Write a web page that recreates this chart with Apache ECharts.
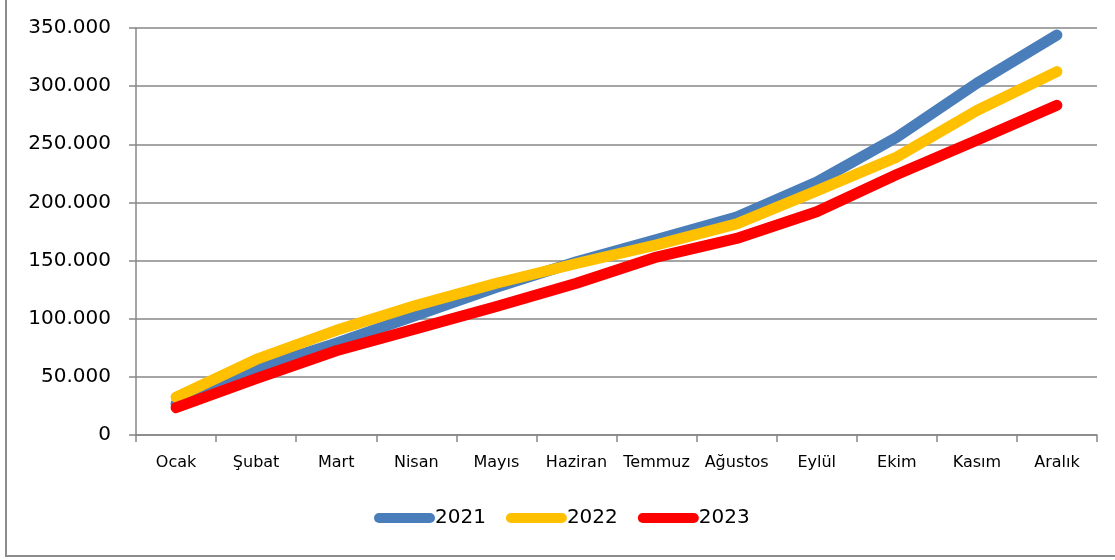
<!DOCTYPE html>
<html>
<head>
<meta charset="utf-8">
<script src="https://cdn.jsdelivr.net/npm/echarts@6/dist/echarts.min.js"></script>
<style>
  html, body { margin: 0; padding: 0; background: #fff; overflow: hidden; }
  #wrap { position: relative; width: 1115px; height: 560px; }
  #frame {
    position: absolute; left: 5px; top: -6px; width: 1120px; height: 563px;
    border: 2px solid #8c8c8c; box-sizing: border-box;
  }
  #chart { position: absolute; left: 0; top: 0; width: 1115px; height: 560px; }
</style>
</head>
<body>
<div id="wrap">
  <div id="frame"></div>
  <div id="chart"></div>
</div>
<script>
  // aylar
  const months = ['Ocak', 'Şubat', 'Mart', 'Nisan', 'Mayıs', 'Haziran', 'Temmuz', 'Ağustos', 'Eylül', 'Ekim', 'Kasım', 'Aralık']
  const years = ['2021', '2022', '2023']
  const colors = ['#4a7ebb', '#ffc000', '#ff0000']

  const data2021 = [27000, 57000, 79000, 103000, 127000, 149000, 168000, 187500, 217500, 256000, 302500, 344000]
  const data2022 = [32500, 65000, 90000, 111500, 130500, 147500, 163500, 181500, 210000, 239000, 279000, 312500]
  const data2023 = [23500, 48500, 72500, 91500, 110500, 130500, 153000, 169000, 192000, 224000, 253500, 283500]

  const yTicks = [0, 50000, 100000, 150000, 200000, 250000, 300000, 350000]

  const seriesData = [data2021, data2022, data2023]
  const font = 'DejaVu Sans'

  function fmt(v) {
    return v === 0 ? '0' : String(v).replace(/\B(?=(\d{3})+(?!\d))/g, '.')
  }

  const myChart = echarts.init(document.getElementById('chart'), null, { renderer: 'canvas' })

  myChart.setOption({
    animation: false,
    grid: {
      left: 136,
      right: 18,
      top: 28,
      bottom: 125
    },
    legend: {
      left: 369,
      top: 503,
      itemWidth: 61,
      itemHeight: 10,
      itemGap: 20,
      icon: 'path://M5,0 L56,0 A5,5 0 0 1 56,10 L5,10 A5,5 0 0 1 5,0 Z',
      textStyle: {
        fontFamily: font,
        fontSize: 20,
        color: '#000',
        padding: [0, 0, 0, -5]
      },
      data: years
    },
    xAxis: {
      type: 'category',
      data: months,
      boundaryGap: true,
      axisLine: { lineStyle: { color: '#878787', width: 1.5 } },
      axisTick: { show: true, length: 7, lineStyle: { color: '#878787', width: 1.5 } },
      axisLabel: {
        fontFamily: font,
        fontSize: 16,
        color: '#000',
        margin: 20,
        interval: 0
      },
      splitLine: { show: false }
    },
    yAxis: {
      type: 'value',
      min: yTicks[0],
      max: yTicks[yTicks.length - 1],
      interval: yTicks[1] - yTicks[0],
      axisLine: { show: true, lineStyle: { color: '#878787', width: 1.5 } },
      axisTick: { show: true, length: 7, lineStyle: { color: '#878787', width: 1.5 } },
      axisLabel: {
        fontFamily: font,
        fontSize: 20,
        color: '#000',
        margin: 25,
        formatter: fmt
      },
      splitLine: { show: true, lineStyle: { color: '#878787', width: 1.5 } }
    },
    series: years.map((name, i) => ({
      name: name,
      type: 'line',
      data: seriesData[i],
      symbol: 'none',
      color: colors[i],
      lineStyle: { width: 11, color: colors[i], cap: 'round', join: 'round' },
      z: 2 + i
    }))
  })
</script>
</body>
</html>
